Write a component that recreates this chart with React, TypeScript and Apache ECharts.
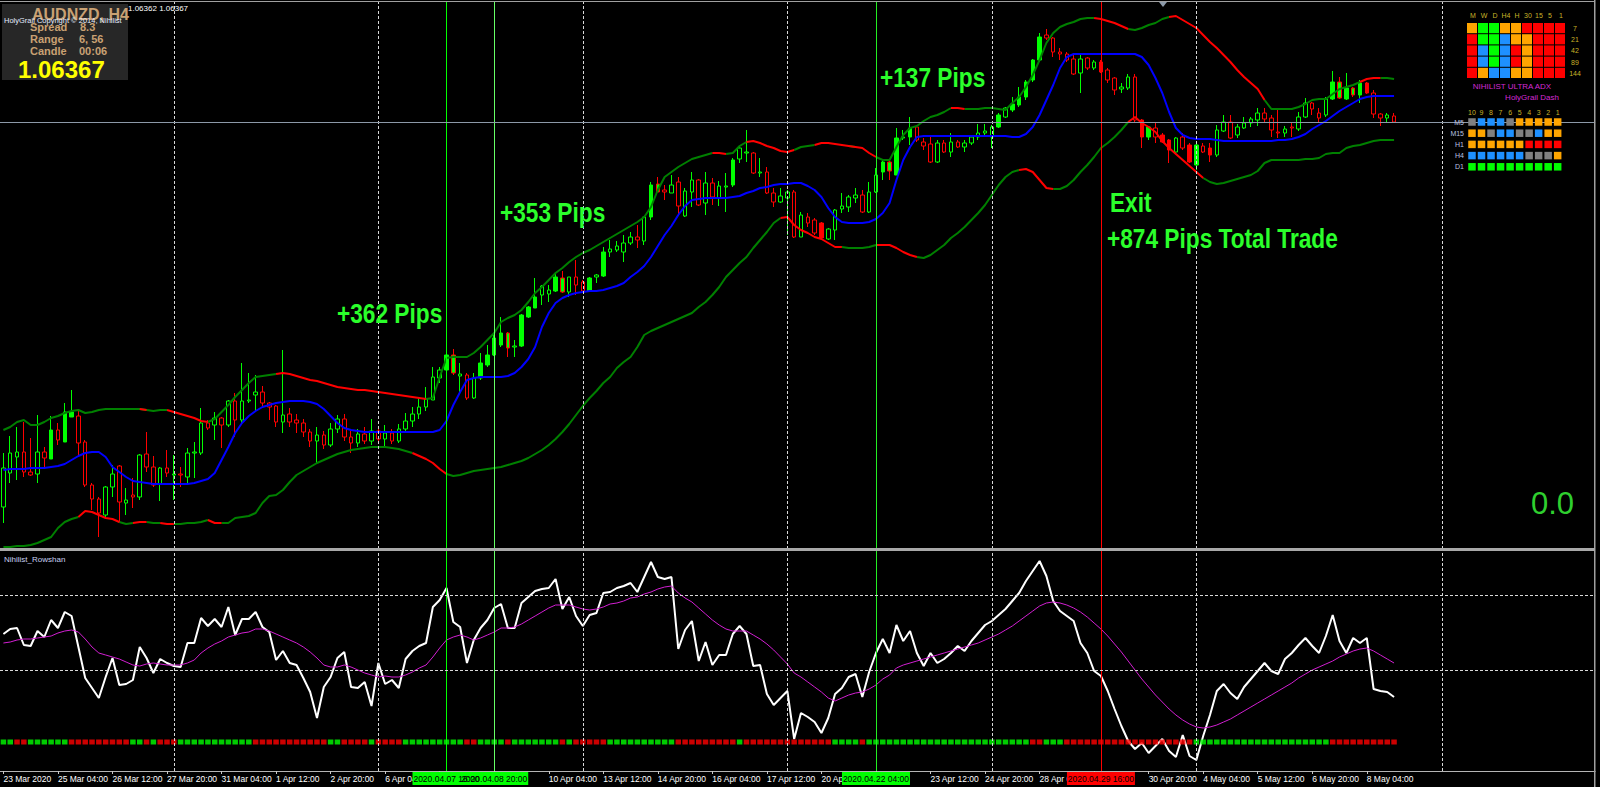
import React, { useEffect, useRef } from "react";
import * as echarts from "echarts";

// ---------- axis ----------
const tickLabels = [
  "23 Mar 2020", "25 Mar 04:00", "26 Mar 12:00", "27 Mar 20:00", "31 Mar 04:00", "1 Apr 12:00",
  "2 Apr 20:00", "6 Apr 04:00", "7 Apr 12:00", "8 Apr 20:00", "10 Apr 04:00", "13 Apr 12:00",
  "14 Apr 20:00", "16 Apr 04:00", "17 Apr 12:00", "20 Apr 20:00", "22 Apr 04:00", "23 Apr 12:00",
  "24 Apr 20:00", "28 Apr 04:00", "29 Apr 12:00", "30 Apr 20:00", "4 May 04:00", "5 May 12:00",
  "6 May 20:00", "8 May 04:00",
];
const BARS_PER_TICK = 8;
const SLOTS = 234; // H4 bar slots incl. empty right margin

// ---------- AUDNZD H4 prices, in pips above 1.0000 (price = 1 + v/10000) ----------
const open = [
  252,286,302,307,287,285,307,300,329,317, 342,343,317,274,260,244,272,293,256,264,
  262,305,292,275,291,284,285,282,306,306, 336,334,341,334,358,339,358,364,367,356,
  353,337,345,339,336,327,318,324,314,330, 340,322,316,325,318,328,320,326,318,330,
  338,345,352,359,381,389,404,383,384,361, 381,394,404,414,426,412,413,442,451,464,
  465,468,481,467,482,477,468,482,483,507, 509,507,516,522,518,542,575,569,566,577,
  543,567,579,556,576,561,572,574,600,606, 606,586,587,566,557,561,567,522,542,539,
  536,520,529,550,552,561,564,547,567,587, 597,584,621,622,632,617,615,597,616,607,
  617,612,616,622,626,622,632,642,649,654, 662,679,699,724,721,707,705,700,686,701,
  691,697,689,681,670,671,682,639,622,631, 624,619,607,622,614,594,613,611,604,628,
  637,624,631,636,639,646,641,627,626,632, 630,642,656,646,644,660,677,660,671,664,
  676,666,645,641,643,
];
const high = [
  306,323,332,337,321,344,312,343,336,356, 369,349,319,276,262,273,294,294,271,281,
  305,327,303,292,309,304,292,311,317,351, 339,347,342,359,366,396,386,384,373,357,
  354,409,351,345,340,330,332,328,336,344, 345,328,330,332,340,332,334,330,335,346,
  352,360,372,392,392,405,410,396,386,386, 406,414,426,442,427,419,445,453,481,474,
  474,487,488,482,499,479,482,485,512,519, 518,524,527,534,542,577,582,574,584,582,
  571,587,580,587,581,578,586,601,612,629, 607,601,592,571,571,569,569,547,546,541,
  537,531,550,566,564,571,569,577,591,599, 599,631,629,642,634,621,622,619,619,626,
  619,619,624,635,635,634,646,652,662,672, 679,700,726,730,722,711,707,705,706,702,
  699,699,691,682,676,685,685,640,632,636, 626,620,622,626,616,616,616,616,634,644,
  644,635,642,642,651,651,644,651,633,636, 647,661,657,651,662,688,682,686,672,679,
  677,669,646,646,646,
];
const low = [
  236,276,279,282,283,276,291,300,314,317, 342,304,272,249,222,242,262,236,244,251,
  259,287,272,258,282,259,272,274,281,304, 329,319,311,332,322,336,356,347,352,339,
  332,326,332,326,322,312,296,310,312,326, 318,306,312,315,314,316,312,315,316,326,
  332,340,348,359,376,388,384,366,359,360, 379,392,403,412,402,402,412,441,451,454,
  457,467,466,462,464,467,467,476,482,502, 507,497,514,511,514,539,567,559,566,544,
  542,552,553,544,554,553,547,572,596,597, 585,582,565,552,556,524,521,522,532,524,
  519,519,519,546,547,556,546,546,566,579, 579,584,619,614,617,609,596,596,606,602,
  611,607,614,619,624,611,631,641,647,652, 659,677,697,719,702,699,697,684,666,689,
  689,686,676,664,666,669,637,611,619,616, 616,596,606,609,596,589,606,597,602,627,
  620,621,630,632,633,636,622,621,622,622, 628,641,644,636,642,659,660,659,662,656,
  665,641,633,636,636,
];
const close = [
  291,306,307,287,284,307,301,329,319,347, 347,316,274,260,246,272,285,257,259,262,
  304,292,274,291,286,285,284,306,307,336, 331,341,334,358,339,358,359,367,356,352,
  337,344,337,336,327,318,324,314,330,340, 322,316,325,318,328,320,326,318,330,338,
  345,352,360,382,389,404,386,385,361,381, 396,404,421,426,411,413,444,452,462,473,
  469,482,467,482,474,468,481,484,507,510, 513,516,522,519,542,574,567,567,574,553,
  568,579,554,576,562,573,573,599,611,607, 586,587,566,557,563,567,522,544,536,526,
  521,530,549,553,562,564,547,567,584,597, 588,621,622,631,619,613,597,616,607,617,
  612,616,622,626,628,632,644,651,655,662, 677,699,722,721,707,705,699,685,700,691,
  697,687,679,669,672,682,639,622,632,622, 617,609,621,611,597,614,607,604,629,637,
  621,632,636,640,646,640,629,626,630,631, 642,656,650,641,660,677,661,671,664,676,
  666,645,641,644,637,
];
const limeBodies = [7,9,10,65,66,70,71,72,73,74,76,77,78,81,82,86,88,95,96,107,129,130,131,133,146,148,149,150,151,152,168,175,195,196,197,198,199];
const redBodies = [120,161,167,170,171,174,177,200];

// ---------- bands (same units) ----------
const upperBand = [
  329,332,337,339,334,334,337,341,343,346, 348,349,346,347,349,350,350,350,350,350,
  350,349,348,349,349,347,345,343,341,338, 337,340,347,354,362,369,376,382,383,384,
  385,386,385,383,381,379,378,376,374,372, 371,370,369,369,368,367,366,365,364,363,
  362,361,360,361,382,401,402,402,402,406, 412,419,426,437,441,444,449,457,466,472,
  479,486,491,497,502,506,509,513,517,521, 525,529,533,537,542,552,569,582,587,592,
  596,600,602,604,606,606,605,606,613,617, 618,616,613,611,608,607,609,612,613,614,
  616,616,615,614,613,612,611,606,602,599, 599,612,624,631,633,638,642,644,647,651,
  651,650,650,650,651,651,650,649,656,662, 672,684,699,716,726,732,735,737,740,741,
  741,740,738,736,733,730,729,731,734,736, 740,742,743,739,735,731,724,717,711,704,
  697,689,682,676,670,659,650,650,650,650, 652,655,659,660,660,665,670,672,674,677,
  680,681,681,681,680,
];
const middleBand = [
  289,290,290,290,291,291,291,292,293,295, 299,303,306,307,307,302,292,287,282,278,
  277,276,275,275,275,275,275,275,276,278, 280,286,299,312,326,336,343,348,352,354,
  356,357,358,358,358,357,355,350,343,336, 331,329,328,327,327,327,327,327,327,327,
  327,327,327,327,329,338,354,367,379,381, 382,382,382,382,383,386,392,400,412,432,
  446,456,461,464,466,467,468,468,469,471, 473,476,482,487,493,502,513,524,533,544,
  553,559,560,561,561,561,561,562,563,566, 568,571,572,574,575,575,576,576,573,569,
  562,551,542,537,536,536,536,537,540,546, 556,579,599,612,622,623,623,623,623,623,
  623,623,623,623,623,623,623,623,622,622, 625,632,644,659,674,691,702,705,705,705,
  705,705,705,705,705,705,705,702,694,681, 666,647,631,624,621,620,620,620,619,618,
  618,618,618,618,618,618,618,619,619,620, 622,625,630,634,638,643,648,652,656,660,
  662,663,663,663,663,
];
const lowerBand = [
  212,212,213,213,214,216,219,222,231,237, 240,242,248,247,244,241,240,237,235,236,
  237,237,236,236,235,235,235,236,236,237, 239,236,236,236,241,242,243,246,256,263,
  264,269,277,284,288,292,296,299,302,305, 307,309,310,311,312,312,312,311,310,308,
  306,303,300,296,290,285,283,284,286,288, 289,290,291,292,294,296,298,301,305,309,
  314,320,327,335,344,353,361,368,376,382, 391,397,402,412,424,428,431,434,437,440,
  443,446,452,457,464,472,482,489,496,502, 511,519,527,536,541,542,534,529,526,522,
  520,516,512,512,511,511,511,512,514,514, 514,511,507,504,502,501,504,509,514,521,
  526,532,539,546,554,564,574,582,587,589, 590,587,579,571,570,570,573,579,587,594,
  602,611,616,622,629,637,642,636,632,627, 618,611,605,599,593,587,581,577,575,576,
  578,580,582,584,588,596,599,599,599,599, 599,600,600,601,605,606,606,611,613,614,
  616,618,619,619,619,
];
const upperColorRuns: [string, number][] = [
  ["g",21],["r",1],["g",3],["r",6],["g",10],["r",22],["g",42],["r",2],["g",3],["r",7],["g",3],["r",5],
  ["g",1],["r",3],["g",11],["r",2],["g",19],["r",5],["g",6],["r",14],["g",14],["r",3],["g",2],
];
const lowerColorRuns: [string, number][] = [
  ["g",12],["r",6],["g",2],["r",2],["g",2],["r",2],["g",5],["r",2],["g",28],["r",5],["g",49],["r",9],
  ["g",5],["r",6],["g",15],["r",5],["g",11],["r",11],["g",28],
];

// ---------- Nihilist_Rowshan sub-window ----------
const oscillator = [
  137,142,143,126,125,140,134,151,143,159, 155,124,93,83,73,94,113,86,87,91,
  124,113,98,112,108,105,104,128,128,153, 145,152,144,164,136,152,152,159,144,139,
  111,120,108,106,93,79,53,84,94,113, 119,84,83,89,65,108,87,91,83,112,
  120,125,128,164,171,183,149,144,108,131, 143,151,163,167,143,143,168,174,180,182,
  183,192,162,174,155,145,156,158,178,179, 183,185,188,179,194,209,194,192,194,122,
  141,150,110,129,106,116,116,137,145,137, 105,106,77,66,73,80,32,58,54,49,
  38,53,77,83,94,97,74,99,118,132, 118,146,130,140,118,105,118,108,112,118,
  125,120,130,138,146,150,156,162,170,178, 190,200,210,195,170,160,155,150,128,118,
  100,95,80,62,45,30,22,28,18,25, 32,20,14,36,15,11,35,56,80,87,
  78,72,84,92,100,108,100,97,112,118, 126,133,125,118,135,156,130,118,133,128,
  133,82,80,79,74,
];
const oscSignal = [
  128,129,131,132,132,133,134,135,138,140, 141,139,132,124,118,116,114,112,109,106,
  105,107,108,107,106,106,106,108,111,118, 123,127,130,134,136,138,139,142,142,140,
  137,134,131,128,124,119,113,106,104,104, 106,104,101,98,96,94,95,94,94,96,
  99,103,106,114,123,131,134,136,134,131, 133,136,139,143,143,144,147,151,155,159,
  163,166,166,166,164,162,161,162,164,167, 168,170,173,174,177,179,182,184,185,178,
  173,169,163,157,151,146,142,140,140,140, 136,132,127,121,114,107,98,94,89,84,
  79,73,70,73,76,78,79,82,86,92, 96,103,106,108,110,112,114,116,118,120,
  122,124,126,128,131,134,137,141,145,150, 155,160,165,168,169,168,166,163,159,154,
  148,142,135,127,119,110,101,92,84,76, 69,62,56,51,47,44,43,44,46,49,
  52,56,60,64,68,72,76,80,84,88, 93,97,101,104,107,110,114,117,120,122,
  123,120,116,112,108,
];
const stripRuns: [string, number][] = [
  ["g",2],["r",2],["g",6],["r",9],["g",2],["r",1],["g",1],["r",3],["g",11],["r",11],["g",2],["r",4],["g",1],["r",4],
  ["g",9],["r",2],["g",4],["r",1],["g",7],["r",1],["g",1],["r",5],["g",10],["r",9],["g",1],["r",13],["g",4],["r",1],["g",5],
  ["g",19],["r",2],["g",3],["r",19],["g",20],["r",10],
];
const oscLevels = [176, 101];
const STRIP_LEVEL = 29;

// ---------- vertical markers ----------
const weeklyGridBars = [25, 55, 85, 115, 145, 175, 211];
const tradeLines = [
  { bar: 65, label: "2020.04.07 16:00", color: "#00ff00" },
  { bar: 72, label: "2020.04.08 20:00", color: "#66ff66" },
  { bar: 128, label: "2020.04.22 04:00", color: "#22ee22" },
  { bar: 161, label: "2020.04.29 16:00", color: "#ff0000" },
];
const BOX_HALF_BARS = 5; // time boxes are ~68px wide
const currentPrice = 637;

// ---------- dashboard ----------
const adxHeaders = ["M", "W", "D", "H4", "H", "30", "15", "5", "1"];
const adxPeriods = ["7", "21", "42", "89", "144"];
const adxCells = ["oggoorrrr", "rggboorrr", "rbgbrorrr", "rbgbrorrr", "robboorrr"];
const dashHeaders = ["10", "9", "8", "7", "6", "5", "4", "3", "2", "1"];
const dashRows = ["M5", "M15", "H1", "H4", "D1"];
const dashCells = ["xbbbxooooo", "ooxbbxxboo", "oooooorrrr", "bbbbbbxxxo", "gggggggggg"];

const LIME = "#00ff00";
const RED = "#ff0000";
const CELL: Record<string, string> = { r: "#ff0000", g: "#00ff00", o: "#ffa500", b: "#1e90ff", x: "#808080" };
const SANS = "'Liberation Sans', Arial, sans-serif";

const expandRuns = (runs: [string, number][]) => runs.flatMap(([c, n]) => Array(n).fill(c) as string[]);
const splitByColor = (vals: number[], cols: string[], which: string) =>
  vals.map((v, i) => (cols[i] === which || cols[i + 1] === which ? v : null));

export default function App() {
  const ref = useRef<HTMLDivElement>(null);
  useEffect(() => {
    document.body.style.margin = "0";
    document.body.style.background = "#000";
    const chart = echarts.init(ref.current!, null, { renderer: "svg" });
    const cats = Array.from({ length: SLOTS }, (_, i) => String(i));
    const upCols = expandRuns(upperColorRuns);
    const loCols = expandRuns(lowerColorRuns);
    const strip = expandRuns(stripRuns);
    const candleData = open.map((o, i) => {
      const item: any = { value: [o, close[i], low[i], high[i]] };
      if (limeBodies.includes(i)) item.itemStyle = { color: LIME, color0: LIME };
      else if (redBodies.includes(i)) item.itemStyle = { color: RED, color0: RED };
      return item;
    });
    const isTick = (i: number) => i % BARS_PER_TICK === 0 && i / BARS_PER_TICK < tickLabels.length;
    // labels whose start lies under a trade-line time box are hidden (as on the terminal)
    const underBox = (i: number) => tradeLines.some((t) => i >= t.bar - BOX_HALF_BARS && i <= t.bar + BOX_HALF_BARS);
    const showLabel = (i: number) => isTick(i) && !underBox(i);
    const vline = (bar: number, color: string, dashed: boolean) => ({
      xAxis: bar,
      lineStyle: { color, width: 1, type: dashed ? [3, 2] : "solid" },
    });
    const vlines = [
      ...weeklyGridBars.map((b) => vline(b, "#d8d8d8", true)),
      ...tradeLines.map((t) => vline(t.bar, t.color, false)),
    ];
    const band = (data: any[], color: string, name: string) => ({
      type: "line", name, xAxisIndex: 0, yAxisIndex: 0, data, symbol: "none", connectNulls: false,
      lineStyle: { color, width: 2 }, z: 3, silent: true,
    });
    const option: any = {
      animation: false,
      backgroundColor: "#000",
      grid: [
        { left: -1.9, top: 2, width: 1597.05, height: 547 },
        { left: -1.9, top: 551, width: 1597.05, height: 220 },
      ],
      xAxis: [
        { type: "category", gridIndex: 0, data: cats, boundaryGap: true, show: false },
        {
          type: "category", gridIndex: 1, data: cats, boundaryGap: true,
          axisLine: { show: true, lineStyle: { color: "#b4b4b4", width: 1 } },
          axisTick: { show: true, alignWithLabel: true, interval: (i: number) => isTick(i), length: 3, lineStyle: { color: "#c8c8c8" } },
          axisLabel: {
            show: true, interval: (i: number) => showLabel(i),
            formatter: (_v: string, i: number) => tickLabels[i / BARS_PER_TICK] ?? "",
            align: "left", margin: 3, color: "#ffffff", fontSize: 8.5, fontFamily: SANS,
          },
          splitLine: { show: false },
        },
      ],
      yAxis: [
        { type: "value", gridIndex: 0, min: 210, max: 757, show: false, splitLine: { show: false } },
        { type: "value", gridIndex: 1, min: 0, max: 220, show: false, splitLine: { show: false } },
      ],
      series: [
        {
          type: "candlestick", xAxisIndex: 0, yAxisIndex: 0, data: candleData, barWidth: 4, z: 2, silent: true,
          itemStyle: { color: "#000", color0: "#000", borderColor: LIME, borderColor0: RED, borderWidth: 1 },
        },
        band(splitByColor(upperBand, upCols, "g"), "#008000", "upG"),
        band(splitByColor(upperBand, upCols, "r"), RED, "upR"),
        band(splitByColor(lowerBand, loCols, "g"), "#008000", "loG"),
        band(splitByColor(lowerBand, loCols, "r"), RED, "loR"),
        {
          ...band(middleBand, "#0000ff", "mid"),
          markLine: {
            silent: true, symbol: ["none", "none"], label: { show: false }, animation: false,
            data: [...vlines, { yAxis: currentPrice, lineStyle: { color: "#8c99a8", width: 1, type: "solid" } }],
          },
        },
        {
          type: "line", xAxisIndex: 1, yAxisIndex: 1, data: oscillator, symbol: "none", silent: true, z: 3,
          lineStyle: { color: "#ffffff", width: 2 },
          markLine: {
            silent: true, symbol: ["none", "none"], label: { show: false }, animation: false,
            data: [
              ...vlines,
              ...oscLevels.map((l) => ({ yAxis: l, lineStyle: { color: "#d8d8d8", width: 1, type: [3, 2] } })),
            ],
          },
        },
        {
          type: "line", xAxisIndex: 1, yAxisIndex: 1, data: oscSignal, symbol: "none", silent: true, z: 4,
          lineStyle: { color: "#d21fd2", width: 1 },
        },
        {
          type: "scatter", xAxisIndex: 1, yAxisIndex: 1, symbol: "rect", symbolSize: [5.5, 5], silent: true, z: 4,
          data: strip.map((c, i) => ({ value: [i, STRIP_LEVEL], itemStyle: { color: c === "g" ? LIME : RED } })),
        },
      ],
    };
    chart.setOption(option);

    const xPix = (bar: number) => chart.convertToPixel({ xAxisIndex: 1 }, bar) as number;
    const txt = (x: number, y: number, text: string, font: string, fill: string, align = "left", extra: any = {}) => ({
      type: "text", x, y, z: 100, silent: true, ...extra,
      style: { text, font, fill, align, textAlign: align, verticalAlign: "middle", textVerticalAlign: "middle" },
    });
    const rect = (x: number, y: number, w: number, h: number, fill: string, z = 100) => ({
      type: "rect", z, silent: true, shape: { x, y, width: w, height: h }, style: { fill },
    });
    const g: any[] = [];
    // frame
    g.push(rect(0, 1, 1595, 1, "#a0a0a0"));
    g.push(rect(1594, 0, 1.5, 787, "#a0a0a0"));
    g.push(rect(0, 548, 1595, 3, "#a8a8a8"));
    g.push({ type: "polygon", z: 100, silent: true, shape: { points: [[1159, 2], [1167, 2], [1163, 7]] }, style: { fill: "#8c99a8" } });
    g.push({ type: "polygon", z: 100, silent: true, shape: { points: [[2, 5], [7, 5], [4.5, 8]] }, style: { fill: "#ffffff" } });
    // info box
    g.push(rect(2, 4, 126, 76, "#272727"));
    const tan = "#c9a173";
    g.push(txt(32, 14, "AUDNZD, H4", `bold 16px ${SANS}`, tan));
    g.push(txt(30, 27, "Spread", `bold 11px ${SANS}`, tan));
    g.push(txt(80, 27, "8.3", `bold 11px ${SANS}`, tan));
    g.push(txt(30, 39, "Range", `bold 11px ${SANS}`, tan));
    g.push(txt(79, 39, "6, 56", `bold 11px ${SANS}`, tan));
    g.push(txt(30, 51, "Candle", `bold 11px ${SANS}`, tan));
    g.push(txt(79, 51, "00:06", `bold 11px ${SANS}`, tan));
    g.push(txt(18, 69, "1.06367", `bold 24px ${SANS}`, "#ffff00"));
    g.push(txt(4, 20, "HolyGrail Copyright \u00a9 2014, Nihilist", `7.5px ${SANS}`, "#e4ecff"));
    g.push(txt(128, 8, "1.06362 1.06367", `8px ${SANS}`, "#ffffff"));
    // annotations (condensed heavy lettering)
    const ann = `bold 28px ${SANS}`;
    const green = "#2bff2b";
    const cond = { scaleX: 0.81 };
    g.push(txt(337, 313, "+362 Pips", ann, green, "left", cond));
    g.push(txt(500, 212, "+353 Pips", ann, green, "left", cond));
    g.push(txt(880, 77, "+137 Pips", ann, green, "left", cond));
    g.push(txt(1110, 202, "Exit", ann, green, "left", cond));
    g.push(txt(1107, 238, "+874 Pips Total Trade", ann, green, "left", cond));
    g.push(txt(1531, 503, "0.0", `31px ${SANS}`, "#2fcf2f"));
    g.push(txt(4, 559, "Nihilist_Rowshan", `8px ${SANS}`, "#c8d0f0"));
    // ADX dashboard
    const yel = "#c8b428";
    const AX = 1467, AY = 23, CW = 11, CH = 11.2;
    adxHeaders.forEach((h, c) => g.push(txt(AX + CW * c + 6, 15, h, `7px ${SANS}`, yel, "center")));
    adxCells.forEach((row, r) =>
      row.split("").forEach((k, c) => g.push(rect(AX + CW * c, AY + CH * r, CW - 1, CH - 1, CELL[k])))
    );
    adxPeriods.forEach((p, r) => g.push(txt(1575, AY + CH * r + 5.5, p, `7px ${SANS}`, yel, "center")));
    g.push(txt(1512, 86, "NIHILIST ULTRA ADX", `8px ${SANS}`, "#d42ad4", "center"));
    g.push(txt(1532, 97, "HolyGrail Dash", `8px ${SANS}`, "#d42ad4", "center"));
    const DX = 1472, DS = 9.52, DY = 122, DH = 11.2;
    dashHeaders.forEach((h, c) => g.push(txt(DX + DS * c, 112, h, `7px ${SANS}`, yel, "center")));
    dashRows.forEach((lab, r) => g.push(txt(1464, DY + DH * r, lab, `7px ${SANS}`, "#b8c0e0", "right")));
    dashCells.forEach((row, r) =>
      row.split("").forEach((k, c) => g.push(rect(DX + DS * c - 3.75, DY + DH * r - 3.75, 7.5, 7.5, CELL[k])))
    );
    // time boxes on the time axis for the trade lines (later lines drawn first)
    [...tradeLines].reverse().forEach((t) => {
      const cx = xPix(t.bar);
      const fill = t.color === RED ? RED : LIME;
      g.push(rect(cx - 34, 772, 68, 13, fill, 110));
      g.push(txt(cx, 778.5, t.label, `8.5px ${SANS}`, "#000000", "center", { z: 111 }));
    });
    chart.setOption({ graphic: g });
    return () => chart.dispose();
  }, []);
  return <div ref={ref} style={{ width: 1600, height: 787, background: "#000" }} />;
}
